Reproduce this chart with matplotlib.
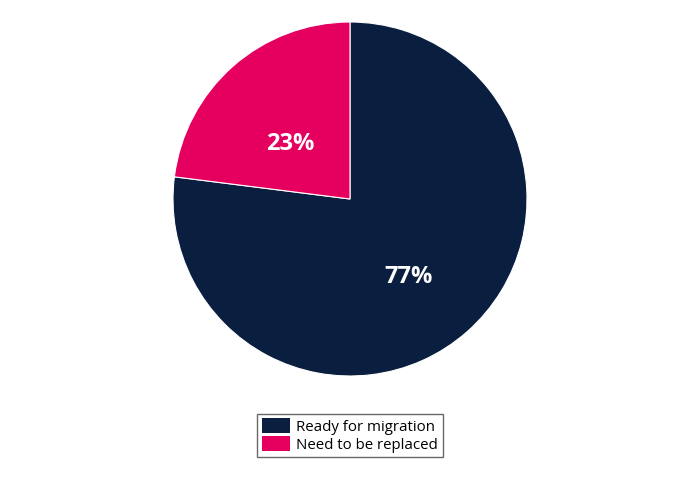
import matplotlib.pyplot as plt
from matplotlib.patches import Patch

labels = ['Ready for migration', 'Need to be replaced']
values = [77, 23]
colors = ['#0a1f3f', '#e5005f']

plt.rcParams['font.family'] = ['Open Sans', 'DejaVu Sans']

fig = plt.figure(figsize=(7, 4.79), dpi=100)
ax = fig.add_axes([173 / 700, 103 / 479, 354 / 700, 354 / 479])

wedges, _ = ax.pie(values, colors=colors, startangle=90, counterclock=False,
                   wedgeprops=dict(edgecolor='white', linewidth=0.8))

# label positions inside each slice (fraction of radius)
label_pos = [(0.33, -0.44), (-0.335, 0.31)]
for v, (x, y) in zip(values, label_pos):
    ax.text(x, y, f'{v}%', color='white', fontsize=17, fontweight='bold',
            ha='center', va='center')

ax.set_xlim(-1, 1)
ax.set_ylim(-1, 1)
ax.set_aspect('equal')

handles = [Patch(facecolor=c, label=l) for c, l in zip(colors, labels)]
leg = fig.legend(handles=handles, loc='center', bbox_to_anchor=(350 / 700, 1 - 435.5 / 479),
                 frameon=True, fancybox=False, fontsize=10.8, handlelength=1.9,
                 handleheight=1.1, handletextpad=0.4, labelspacing=0.12,
                 borderpad=0.3, borderaxespad=0)
leg.get_frame().set_edgecolor('#444444')
leg.get_frame().set_linewidth(1)

fig.savefig('out.png', dpi=100)
